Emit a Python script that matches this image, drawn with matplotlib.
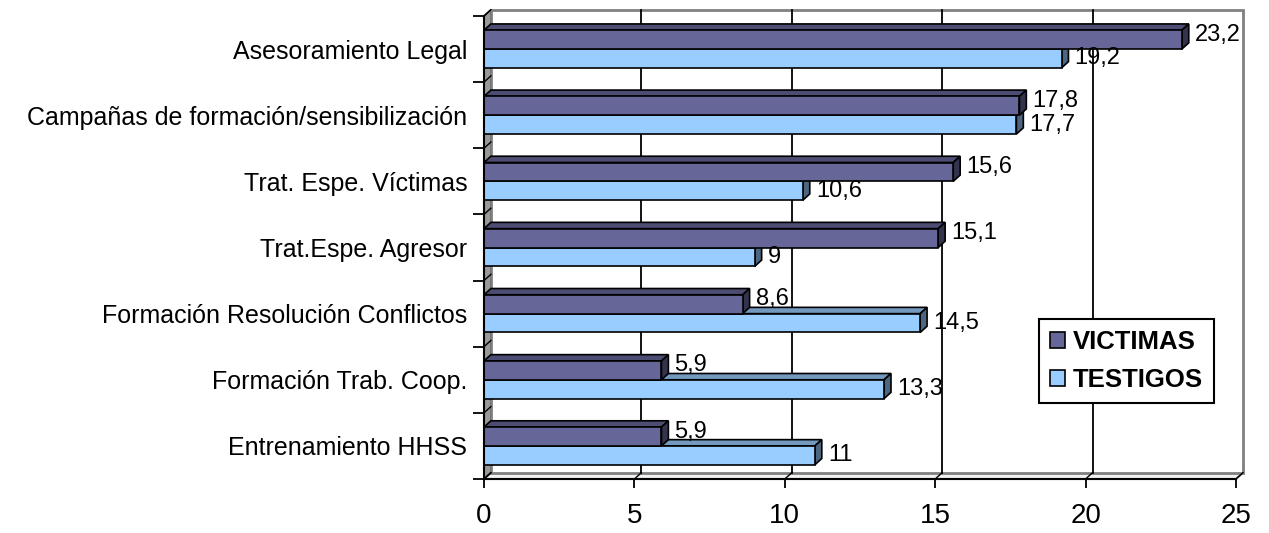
import matplotlib
matplotlib.use("Agg")
import matplotlib.pyplot as plt
from matplotlib.patches import Polygon, Rectangle, Patch

categories = ["Asesoramiento Legal", "Campañas de formación/sensibilización",
              "Trat. Espe. Víctimas", "Trat.Espe. Agresor",
              "Formación Resolución Conflictos", "Formación Trab. Coop.",
              "Entrenamiento HHSS"]
victimas = [23.2, 17.8, 15.6, 15.1, 8.6, 5.9, 5.9]
testigos = [19.2, 17.7, 10.6, 9, 14.5, 13.3, 11]
series_names = ["VICTIMAS", "TESTIGOS"]
xticks = [0, 5, 10, 15, 20, 25]

plt.rcParams['font.family'] = ['Liberation Sans', 'DejaVu Sans']

fig = plt.figure(figsize=(12.69, 5.33), dpi=100)
ax = fig.add_axes([484/1269, 54/533, 752/1269, 463/533])
n = len(categories)
ax.set_xlim(0, 25)
ax.set_ylim(n, 0)

dx, dy = 0.23, 0.095   # 3d depth
bh = 0.285
# colours: front, top, side
dark = ("#666699", "#4d4d73", "#33334d")
light = ("#99ccff", "#7399bf", "#4d6680")

# walls
ax.add_patch(Polygon([(0, n), (0, 0), (dx, -dy), (dx, n - dy)], closed=True,
                     fc="#999999", ec="black", lw=1.2, zorder=0, clip_on=False))
ax.add_patch(Polygon([(0, n), (25, n), (25 + dx, n - dy), (dx, n - dy)], closed=True,
                     fc="#f2f2f2", ec="#808080", lw=1.5, zorder=0, clip_on=False))
ax.add_patch(Rectangle((dx, -dy), 25, n, fc="white", ec="#808080", lw=2,
                       zorder=0, clip_on=False))
for t in xticks[1:-1]:
    ax.plot([t + dx, t + dx], [n - dy, -dy], color="black", lw=1.3, zorder=1, clip_on=False)
for t in xticks:
    ax.plot([t, t + dx], [n, n - dy], color="black", lw=1.0, zorder=1, clip_on=False)
for i in range(n + 1):
    ax.plot([0, dx], [i, i - dy], color="black", lw=1.0, zorder=1, clip_on=False)


def bar3d(y0, v, cols, z):
    y1 = y0 + bh
    ax.add_patch(Polygon([(0, y0), (v, y0), (v + dx, y0 - dy), (dx, y0 - dy)], closed=True,
                         fc=cols[1], ec="black", lw=1.2, zorder=z, clip_on=False))
    ax.add_patch(Polygon([(v, y0), (v + dx, y0 - dy), (v + dx, y1 - dy), (v, y1)], closed=True,
                         fc=cols[2], ec="black", lw=1.2, zorder=z, clip_on=False))
    ax.barh(y0, v, height=bh, left=0, align='edge', color=cols[0],
            edgecolor="black", lw=1.2, zorder=z + 0.5)


for i in range(n):
    bar3d(i + 0.5, testigos[i], light, 2 + i)
    bar3d(i + 0.5 - bh, victimas[i], dark, 2.2 + i)

def fmt(v):
    return f"{v:g}".replace(".", ",")

for i in range(n):
    ax.text(victimas[i] + dx + 0.2, i + 0.5 - bh / 2 - 0.075, fmt(victimas[i]),
            fontsize=17, va="center", ha="left", zorder=20)
    ax.text(testigos[i] + dx + 0.2, i + 0.5 + bh / 2 + 0.0, fmt(testigos[i]),
            fontsize=17, va="center", ha="left", zorder=20)

ax.spines['top'].set_visible(False)
ax.spines['right'].set_visible(False)
ax.spines['left'].set_linewidth(1.5)
ax.spines['bottom'].set_linewidth(1.5)
ax.spines['left'].set_zorder(30)
ax.spines['bottom'].set_zorder(30)

ax.set_xticks(xticks)
ax.set_xticklabels([str(t) for t in xticks], fontsize=20)
ax.tick_params(axis='x', length=6.5, width=1.3, pad=11)
ax.set_yticks(range(n + 1))
ax.set_yticklabels([])
ax.tick_params(axis='y', which='major', length=8, width=1.3)
ax.set_yticks([i + 0.5 for i in range(n)], minor=True)
ax.set_yticklabels(categories, minor=True, fontsize=18)
ax.tick_params(axis='y', which='minor', length=0, pad=12)

handles = [Patch(fc=dark[0], ec="black", lw=1.2), Patch(fc=light[0], ec="black", lw=1.2)]
leg = fig.legend(handles, series_names, loc="upper right",
                 bbox_to_anchor=(1214/1269, 1 - 319/533), bbox_transform=fig.transFigure,
                 prop={'size': 18.5, 'weight': 'bold'}, fancybox=False, framealpha=1,
                 edgecolor="black", handlelength=0.6, handleheight=0.6,
                 handletextpad=0.3, labelspacing=0.55, borderpad=0.42, borderaxespad=0)
leg.get_frame().set_linewidth(1.5)

fig.savefig("out.png", dpi=100)
